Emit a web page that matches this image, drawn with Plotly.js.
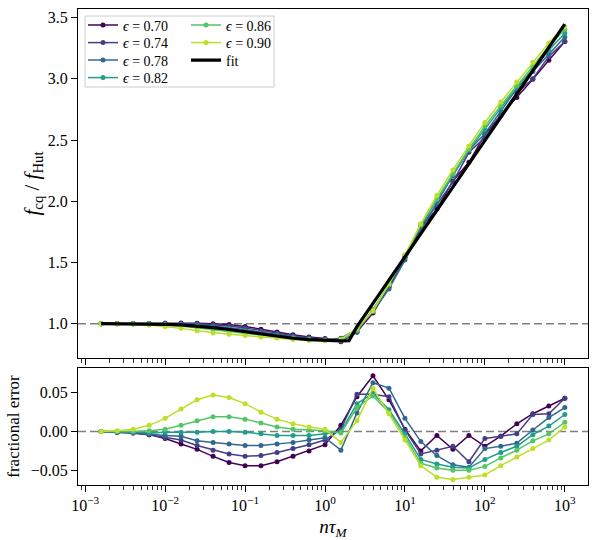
<!DOCTYPE html>
<html><head><meta charset="utf-8">
<script src="https://cdn.plot.ly/plotly-3.0.1.min.js"></script>
<style>html,body{margin:0;padding:0;background:#fff}#chart{width:598px;height:540px}</style>
</head><body><div id="chart"></div>
<script>
// x values: n * tau_M
const nTau = [0.00158, 0.00251, 0.00398, 0.00631, 0.01, 0.0158, 0.0251, 0.0398, 0.0631, 0.1,
              0.158, 0.251, 0.398, 0.631, 1, 1.58, 2.51, 3.98, 6.31, 10,
              15.8, 25.1, 39.8, 63.1, 100, 158, 251, 398, 631, 1000];
const epsLabels = ['0.70', '0.74', '0.78', '0.82', '0.86', '0.90'];

// f_cq / f_Hut for each eccentricity
const ratio070 = [1.000, 1.001, 1.001, 1.002, 1.004, 1.006, 1.004, 0.999, 0.993, 0.978, 0.955, 0.933, 0.910, 0.892, 0.879, 0.853, 0.934, 1.088, 1.303, 1.541, 1.781, 1.936, 2.166, 2.318, 2.544, 2.702, 2.848, 2.997, 3.152, 3.304];
const ratio074 = [1.000, 1.001, 1.001, 1.002, 1.003, 1.001, 0.999, 0.992, 0.981, 0.966, 0.943, 0.922, 0.901, 0.885, 0.874, 0.857, 0.931, 1.113, 1.298, 1.543, 1.788, 1.973, 2.157, 2.400, 2.519, 2.702, 2.885, 3.000, 3.183, 3.304];
const ratio078 = [1.000, 1.001, 1.000, 1.001, 1.000, 0.996, 0.993, 0.982, 0.968, 0.952, 0.931, 0.912, 0.894, 0.880, 0.871, 0.881, 0.953, 1.097, 1.284, 1.520, 1.759, 1.988, 2.211, 2.417, 2.552, 2.738, 2.920, 3.060, 3.198, 3.342];
const ratio082 = [1.000, 1.000, 1.000, 1.000, 0.996, 0.991, 0.982, 0.968, 0.953, 0.936, 0.917, 0.901, 0.885, 0.874, 0.867, 0.860, 0.942, 1.112, 1.319, 1.551, 1.801, 2.010, 2.218, 2.420, 2.589, 2.761, 2.932, 3.078, 3.233, 3.372];
const ratio086 = [1.000, 1.000, 0.999, 0.997, 0.992, 0.982, 0.967, 0.950, 0.935, 0.920, 0.904, 0.892, 0.878, 0.868, 0.863, 0.862, 0.947, 1.115, 1.323, 1.557, 1.810, 2.021, 2.227, 2.427, 2.614, 2.781, 2.947, 3.103, 3.266, 3.405];
const ratio090 = [1.000, 0.999, 0.996, 0.990, 0.978, 0.962, 0.942, 0.925, 0.913, 0.903, 0.892, 0.883, 0.872, 0.865, 0.861, 0.872, 0.963, 1.104, 1.326, 1.563, 1.816, 2.047, 2.256, 2.451, 2.644, 2.810, 2.974, 3.135, 3.292, 3.425];

// fractional error for each eccentricity
const err070 = [0, -0.001, -0.002, -0.004, -0.009, -0.016, -0.023, -0.032, -0.040, -0.044, -0.044, -0.039, -0.032, -0.025, -0.017, 0.008, 0.045, 0.072, 0.041, 0.003, -0.025, -0.005, -0.023, -0.005, -0.019, -0.006, 0.010, 0.023, 0.033, 0.043];
const err074 = [0, -0.001, -0.002, -0.004, -0.008, -0.011, -0.018, -0.024, -0.029, -0.032, -0.031, -0.027, -0.022, -0.017, -0.011, 0.003, 0.048, 0.048, 0.045, 0.002, -0.029, -0.024, -0.019, -0.039, -0.009, -0.006, -0.003, 0.022, 0.023, 0.043];
const err078 = [0, -0.001, -0.001, -0.003, -0.005, -0.006, -0.012, -0.014, -0.016, -0.018, -0.018, -0.016, -0.014, -0.011, -0.008, -0.024, 0.024, 0.063, 0.056, 0.017, -0.013, -0.031, -0.043, -0.046, -0.022, -0.019, -0.015, 0.002, 0.018, 0.031];
const err082 = [0, 0, -0.001, -0.002, -0.001, -0.001, -0.001, 0.000, 0.000, -0.001, -0.003, -0.005, -0.005, -0.005, -0.003, 0.000, 0.036, 0.049, 0.028, -0.003, -0.036, -0.042, -0.046, -0.047, -0.036, -0.027, -0.019, -0.004, 0.007, 0.022];
const err086 = [0, 0, 0, 0.001, 0.003, 0.008, 0.014, 0.019, 0.019, 0.016, 0.011, 0.006, 0.003, 0.002, 0.001, -0.002, 0.031, 0.046, 0.025, -0.007, -0.041, -0.047, -0.050, -0.050, -0.045, -0.034, -0.024, -0.012, -0.003, 0.012];
const err090 = [0, 0.001, 0.003, 0.008, 0.017, 0.029, 0.041, 0.047, 0.044, 0.036, 0.025, 0.016, 0.010, 0.006, 0.003, -0.014, 0.014, 0.056, 0.023, -0.011, -0.044, -0.059, -0.062, -0.059, -0.056, -0.044, -0.033, -0.022, -0.011, 0.006];

// fit curve
const fitN = [0.00158, 0.00251, 0.00398, 0.00631, 0.01, 0.0158, 0.0251, 0.0398, 0.0631, 0.1,
              0.158, 0.251, 0.398, 0.631, 1, 1.58, 2.0, 2.51, 3.98, 6.31, 10,
              15.8, 25.1, 39.8, 63.1, 100, 158, 251, 398, 631, 1000];
const fitRatio = [1.000, 1.000, 0.999, 0.998, 0.995, 0.990, 0.981, 0.968, 0.953, 0.935,
                  0.914, 0.897, 0.881, 0.870, 0.864, 0.860, 0.862, 0.976, 1.166, 1.356, 1.546,
                  1.736, 1.926, 2.116, 2.306, 2.496, 2.686, 2.876, 3.066, 3.256, 3.446];

const xTickVals = [0.001, 0.01, 0.1, 1, 10, 100, 1000];
const xTickText = ['10<sup>−3</sup>', '10<sup>−2</sup>', '10<sup>−1</sup>', '10<sup>0</sup>', '10<sup>1</sup>', '10<sup>2</sup>', '10<sup>3</sup>'];
const yTopTicks = [1.0, 1.5, 2.0, 2.5, 3.0, 3.5];
const yBotTicks = [-0.05, 0.00, 0.05];

const ratios = [ratio070, ratio074, ratio078, ratio082, ratio086, ratio090];
const errs = [err070, err074, err078, err082, err086, err090];
const colors = ['#440154', '#433e85', '#30688e', '#1f9e89', '#52c569', '#bddf26'];

const FONT = 'Liberation Serif, DejaVu Serif, serif';
const L = 78, R = 10, T = 9, B = 55;
const plotW = 598 - L - R;
const plotH = 540 - T - B;
const px2x = p => (p - L) / plotW;
const px2y = p => (540 - B - p) / plotH;

// legend slot positions (pixel): column left edge, row centre
const legendSlots = [[83, 25.5], [83, 43], [83, 60.5], [83, 78], [186, 25.5], [186, 43], [186, 60.5]];

const traces = [];
ratios.forEach((r, i) => {
  traces.push({
    x: nTau, y: r, type: 'scatter', mode: 'lines+markers',
    name: '<i>ϵ</i> = ' + epsLabels[i],
    line: {color: colors[i], width: 1.5},
    marker: {color: colors[i], size: 5},
    legend: i === 0 ? 'legend' : 'legend' + (i + 1),
    xaxis: 'x', yaxis: 'y'
  });
});
traces.push({
  x: fitN, y: fitRatio, type: 'scatter', mode: 'lines', name: 'fit',
  line: {color: '#000000', width: 3.2}, legend: 'legend7', xaxis: 'x', yaxis: 'y'
});
errs.forEach((e, i) => {
  traces.push({
    x: nTau, y: e, type: 'scatter', mode: 'lines+markers', showlegend: false,
    line: {color: colors[i], width: 1.5},
    marker: {color: colors[i], size: 5},
    xaxis: 'x2', yaxis: 'y2'
  });
});

const axisCommon = {
  showline: true, mirror: true, linecolor: '#000', linewidth: 1,
  ticks: 'outside', ticklen: 6, tickwidth: 1, tickcolor: '#000',
  showgrid: false, zeroline: false,
  tickfont: {family: FONT, size: 16, color: '#000'}
};
const xCommon = Object.assign({}, axisCommon, {
  type: 'log', range: [-3.09, 3.29],
  tickmode: 'array', tickvals: xTickVals, ticktext: xTickText,
  minor: {ticks: 'outside', ticklen: 3.5, tickwidth: 0.8, tickcolor: '#000', dtick: 'D1', showgrid: false}
});

const layout = {
  width: 598, height: 540,
  margin: {l: L, r: R, t: T, b: B},
  paper_bgcolor: '#fff', plot_bgcolor: '#fff',
  font: {family: FONT, color: '#000'},
  xaxis: Object.assign({}, xCommon, {anchor: 'y', showticklabels: false}),
  xaxis2: Object.assign({}, xCommon, {anchor: 'y2', matches: 'x',
    title: {text: '<i>nτ</i><sub><i>M</i></sub>', font: {family: FONT, size: 19}, standoff: 6}}),
  yaxis: Object.assign({}, axisCommon, {
    domain: [px2y(358), 1], range: [0.72, 3.57],
    tickmode: 'array', tickvals: yTopTicks, tickformat: '.1f',
    title: {text: '<i>f</i><sub>cq</sub> / <i>f</i><sub>Hut</sub>', font: {family: FONT, size: 21}, standoff: 2}
  }),
  yaxis2: Object.assign({}, axisCommon, {
    domain: [0, px2y(368)], range: [-0.069, 0.082],
    tickmode: 'array', tickvals: yBotTicks, tickformat: '.2f',
    title: {text: 'fractional error', font: {family: FONT, size: 17}, standoff: 6}
  }),
  shapes: [
    {type: 'line', xref: 'x domain', x0: 0, x1: 1, yref: 'y', y0: 1, y1: 1,
     line: {color: '#808080', width: 1.4, dash: '8px,4px'}, layer: 'below'},
    {type: 'line', xref: 'x2 domain', x0: 0, x1: 1, yref: 'y2', y0: 0, y1: 0,
     line: {color: '#808080', width: 1.4, dash: '8px,4px'}, layer: 'below'},
    {type: 'rect', xref: 'paper', yref: 'paper',
     x0: px2x(85), x1: px2x(274), y0: px2y(87), y1: px2y(16),
     line: {color: '#cccccc', width: 1}, fillcolor: 'rgba(255,255,255,0.8)', layer: 'below'}
  ],
  showlegend: true
};
legendSlots.forEach((s, i) => {
  const key = i === 0 ? 'legend' : 'legend' + (i + 1);
  layout[key] = {x: px2x(s[0]), y: px2y(s[1]), xanchor: 'left', yanchor: 'middle',
                 bgcolor: 'rgba(0,0,0,0)', borderwidth: 0,
                 font: {family: FONT, size: 14, color: '#000'}};
});

Plotly.newPlot('chart', traces, layout, {displayModeBar: false, staticPlot: true});
</script>
</body></html>
